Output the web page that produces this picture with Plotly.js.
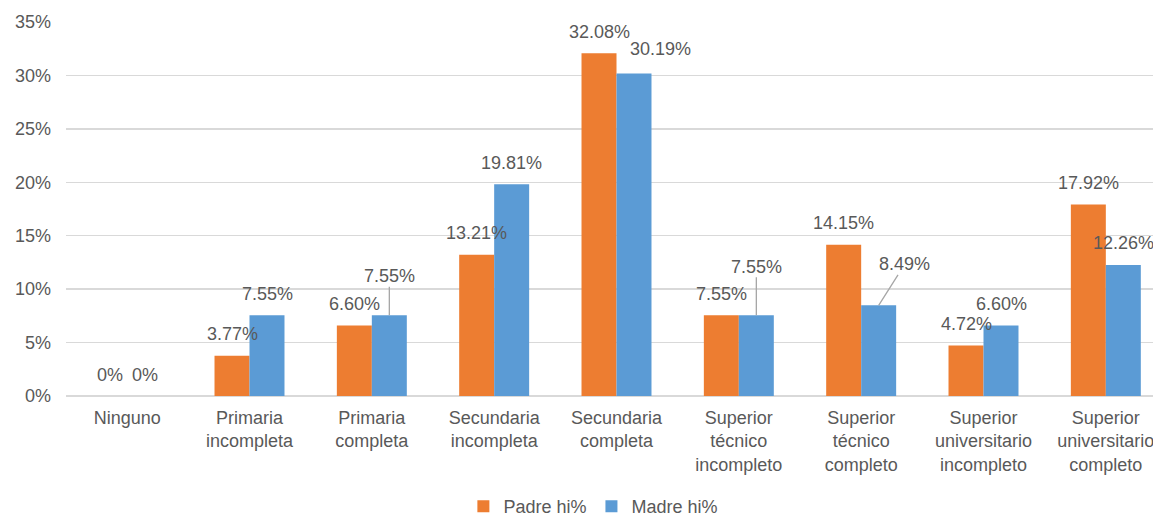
<!DOCTYPE html>
<html>
<head>
<meta charset="utf-8">
<script src="https://cdn.plot.ly/plotly-3.0.1.min.js"></script>
<style>
  html, body { margin: 0; padding: 0; background: #fff; overflow: hidden; }
  #chart { width: 1180px; height: 525px; }
</style>
</head>
<body>
<div id="chart"></div>
<script>
// ---- data ----
const categories = [
  "Ninguno",
  "Primaria<br>incompleta",
  "Primaria<br>completa",
  "Secundaria<br>incompleta",
  "Secundaria<br>completa",
  "Superior<br>técnico<br>incompleto",
  "Superior<br>técnico<br>completo",
  "Superior<br>universitario<br>incompleto",
  "Superior<br>universitario<br>completo"
];
const padre = [0, 3.77, 6.60, 13.21, 32.08, 7.55, 14.15, 4.72, 17.92];
const madre = [0, 7.55, 7.55, 19.81, 30.19, 7.55, 8.49, 6.60, 12.26];
const seriesNames = ["Padre hi%", "Madre hi%"];
const yTicks = [0, 5, 10, 15, 20, 25, 30, 35];

// ---- label placement (pixels, layout only) ----
const defaultLift = 21.5;
const madreLabelMove = {        // index -> [dx, dy(up), leader]
  2: [0, 39, true],
  4: [26, 24, false],
  5: [0, 48.5, true],
  6: [26, 41, true]
};

const COL_P = "#ED7D31", COL_M = "#5B9BD5", TXT = "#595959";
const FONT = "Liberation Sans, Arial, sans-serif";
const barHalf = 17.5;

function fmt(v) { return v === 0 ? "0%" : v.toFixed(2) + "%"; }

const annotations = [];
function addLabels(vals, side, moves) {
  vals.forEach((v, i) => {
    const mv = moves[i];
    const base = {
      x: categories[i], y: v, xref: "x", yref: "y",
      text: fmt(v),
      font: { family: FONT, size: 18, color: TXT },
      xshift: side * barHalf
    };
    if (mv && mv[2]) {
      annotations.push(Object.assign(base, {
        showarrow: true, arrowhead: 0, arrowwidth: 1.3, arrowcolor: "#A6A6A6",
        standoff: 0, startstandoff: 0, borderpad: 0,
        ax: mv[0], ay: -mv[1]
      }));
    } else {
      annotations.push(Object.assign(base, {
        showarrow: false,
        xanchor: "center", yanchor: "middle",
        xshift: side * barHalf + (mv ? mv[0] : 0),
        yshift: mv ? mv[1] : defaultLift
      }));
    }
  });
}
addLabels(padre, -1, {});
addLabels(madre, 1, madreLabelMove);

const traces = [
  { type: "bar", name: seriesNames[0], x: categories, y: padre,
    marker: { color: COL_P }, hoverinfo: "skip" },
  { type: "bar", name: seriesNames[1], x: categories, y: madre,
    marker: { color: COL_M }, hoverinfo: "skip" }
];

const layout = {
  width: 1180, height: 525,
  margin: { l: 66, r: 13, t: 22, b: 129, autoexpand: false },
  paper_bgcolor: "#fff", plot_bgcolor: "#fff",
  font: { family: FONT, size: 18, color: TXT },
  barmode: "group",
  bargap: 0.428, bargroupgap: 0,
  showlegend: true,
  legend: {
    orientation: "h", x: 0.479, xanchor: "center",
    yref: "container", y: 0, yanchor: "bottom",
    font: { family: FONT, size: 18, color: TXT }, traceorder: "normal",
    itemwidth: 30, tracegroupgap: 0
  },
  xaxis: {
    type: "category", showgrid: false, zeroline: false,
    showline: false, ticks: "", ticklabelstandoff: 9,
    tickfont: { family: FONT, size: 18, color: TXT },
    tickangle: 0, automargin: false
  },
  yaxis: {
    range: [0, 35], tickvals: yTicks, ticktext: yTicks.map(t => t + "%"),
    showgrid: true, gridcolor: "#D9D9D9", gridwidth: 1.3,
    zeroline: true, zerolinecolor: "#D9D9D9", zerolinewidth: 1.3,
    showline: false, ticks: "", ticklabelstandoff: 14,
    tickfont: { family: FONT, size: 18, color: TXT }, automargin: false
  },
  annotations: annotations,
  hovermode: false
};

Plotly.newPlot("chart", traces, layout, { displayModeBar: false, staticPlot: true });
</script>
</body>
</html>
